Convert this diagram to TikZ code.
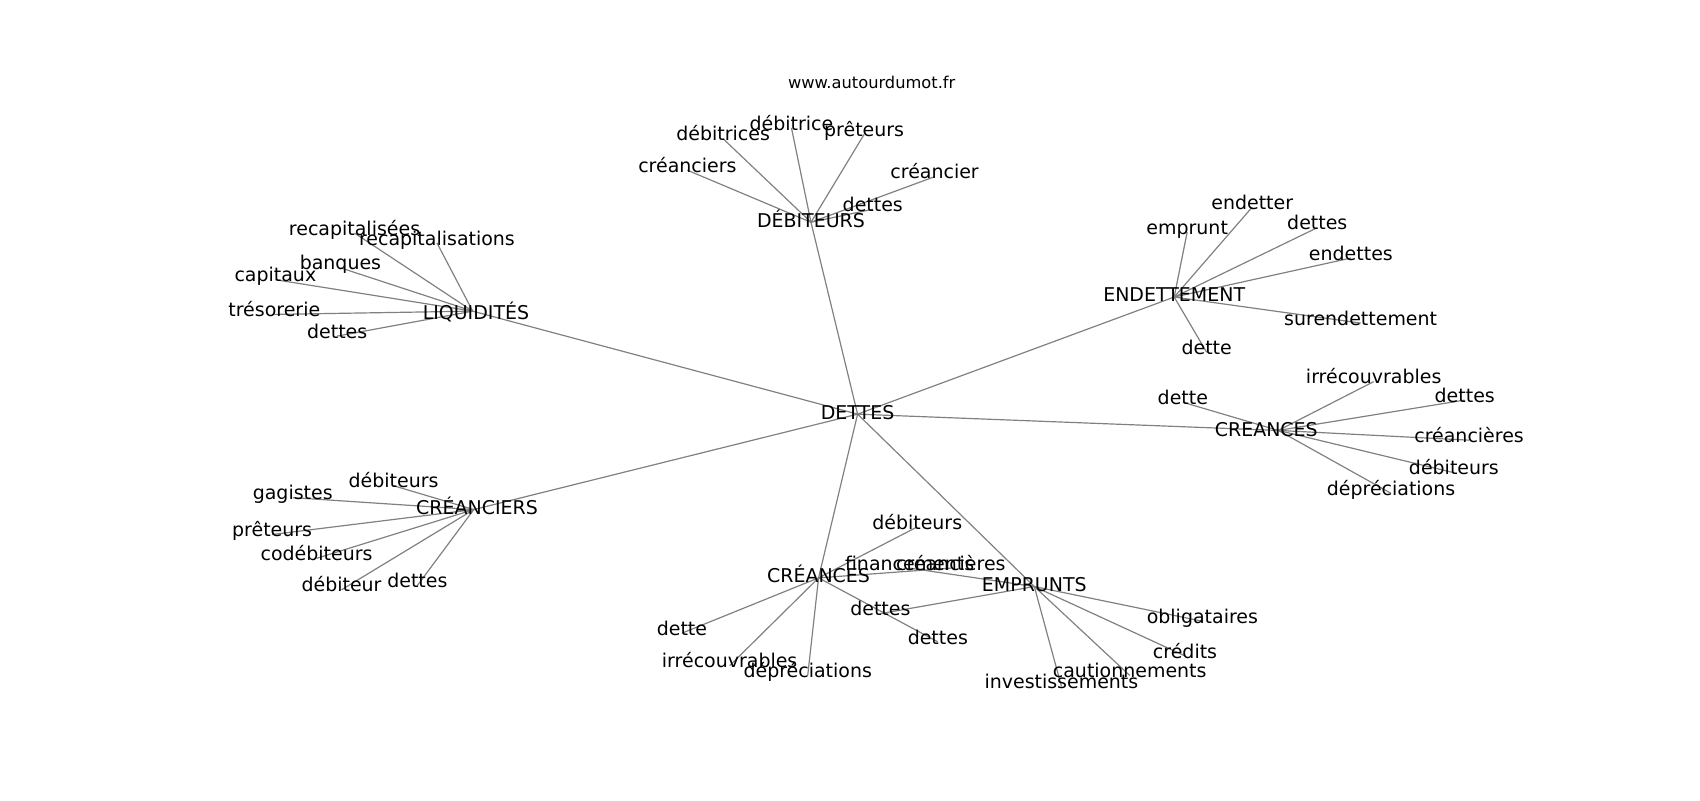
\documentclass[tikz,border=0pt]{standalone}
\usepackage{fontspec}
\setmainfont{DejaVu Sans}
\usetikzlibrary{backgrounds}
\definecolor{edgegray}{RGB}{128,128,128}
\begin{document}
\begin{tikzpicture}[x=1pt,y=-1pt,
  lbl/.style={font=\fontsize{17.5}{20}\selectfont, inner sep=0pt, text height=9pt, text depth=0pt, anchor=center},
  leaf/.style={lbl, text height=4pt},
  ttl/.style={font=\fontsize{15}{18}\selectfont, inner sep=0pt, anchor=base},
  edge/.style={draw=edgegray, line width=1.1pt}]
\useasboundingbox (0,0) rectangle (1568,738);
\node[ttl] (title) at (804,81.5) {www.autourdumot.fr};
% hub
\node[lbl] (h) at (791,382) {DETTES};
% DEBITEURS
\node[lbl] (deb) at (748,205) {DÉBITEURS};
\node[leaf] (d1) at (634,157) {créanciers};
\node[leaf] (d2) at (667,128) {débitrices};
\node[leaf] (d3) at (730,118) {débitrice};
\node[leaf] (d4) at (797,124) {prêteurs};
\node[leaf] (d5) at (862,163) {créancier};
\node[leaf] (d6) at (805,193) {dettes};
% LIQUIDITES
\coordinate (liqP) at (436,287);
\node[lbl] (liq) at (439,290) {LIQUIDITÉS};
\node[leaf] (l1) at (327,215) {recapitalisées};
\node[leaf] (l2) at (403,224) {recapitalisations};
\node[leaf] (l3) at (314,247) {banques};
\node[leaf] (l4) at (254,258) {capitaux};
\node[leaf] (l5) at (253,290) {trésorerie};
\node[leaf] (l6) at (311,310) {dettes};
% ENDETTEMENT
\node[lbl] (en) at (1083,274) {ENDETTEMENT};
\node[leaf] (e1) at (1155,191) {endetter};
\node[leaf] (e2) at (1095,214) {emprunt};
\node[leaf] (e3) at (1215,210) {dettes};
\node[leaf] (e4) at (1246,238) {endettes};
\node[leaf] (e5) at (1255,298) {surendettement};
\node[leaf] (e6) at (1113,325) {dette};
% CREANCES (right)
\coordinate (crP) at (1179,397);
\node[lbl] (cr) at (1168,398) {CREANCES};
\node[leaf] (c1) at (1091,371) {dette};
\node[leaf] (c2) at (1267,352) {irrécouvrables};
\node[leaf] (c3) at (1351,369) {dettes};
\node[leaf] (c4) at (1355,406) {créancières};
\node[leaf] (c5) at (1341,436) {débiteurs};
\node[leaf] (c6) at (1283,455) {dépréciations};
% CREANCIERS
\coordinate (ciP) at (437,470);
\node[lbl] (ci) at (440,470) {CRÉANCIERS};
\node[leaf] (r1) at (363,448) {débiteurs};
\node[leaf] (r2) at (270,459) {gagistes};
\node[leaf] (r3) at (251,493) {prêteurs};
\node[leaf] (r4) at (292,515) {codébiteurs};
\node[leaf] (r5) at (315,544) {débiteur};
\node[leaf] (r6) at (385,540) {dettes};
% CRÉANCES (bottom)
\node[lbl] (ce) at (755,533) {CRÉANCES};
\node[leaf] (s1) at (846,486) {débiteurs};
\node[leaf] (s2) at (877,524) {créancières};
\node[leaf] (s3) at (865,592) {dettes};
\node[leaf] (s4) at (629,584) {dette};
\node[leaf] (s5) at (673,614) {irrécouvrables};
\node[leaf] (s6) at (745,623) {dépréciations};
% EMPRUNTS
\node[lbl] (em) at (954,541) {EMPRUNTS};
\node[leaf] (m1) at (839,524) {financements};
\node[leaf] (m2) at (812,566) {dettes};
\node[leaf] (m3) at (1109,573) {obligataires};
\node[leaf] (m4) at (1093,605) {crédits};
\node[leaf] (m5) at (1042,623) {cautionnements};
\node[leaf] (m6) at (979,633) {investissements};
\begin{scope}[on background layer]
\draw[edge] (h.center) -- (deb.center);
\draw[edge] (h.center) -- (liqP);
\draw[edge] (h.center) -- (en.center);
\draw[edge] (h.center) -- (crP);
\draw[edge] (h.center) -- (ciP);
\draw[edge] (h.center) -- (ce.center);
\draw[edge] (h.center) -- (em.center);
\foreach \n in {d1,d2,d3,d4,d5,d6} \draw[edge] (deb.center) -- (\n.center);
\foreach \n in {l1,l2,l3,l4,l5,l6} \draw[edge] (liqP) -- (\n.center);
\foreach \n in {e1,e2,e3,e4,e5,e6} \draw[edge] (en.center) -- (\n.center);
\foreach \n in {c1,c2,c3,c4,c5,c6} \draw[edge] (crP) -- (\n.center);
\foreach \n in {r1,r2,r3,r4,r5,r6} \draw[edge] (ciP) -- (\n.center);
\foreach \n in {s1,s2,s3,s4,s5,s6} \draw[edge] (ce.center) -- (\n.center);
\foreach \n in {m1,m2,m3,m4,m5,m6} \draw[edge] (em.center) -- (\n.center);
\end{scope}
\end{tikzpicture}
\end{document}
